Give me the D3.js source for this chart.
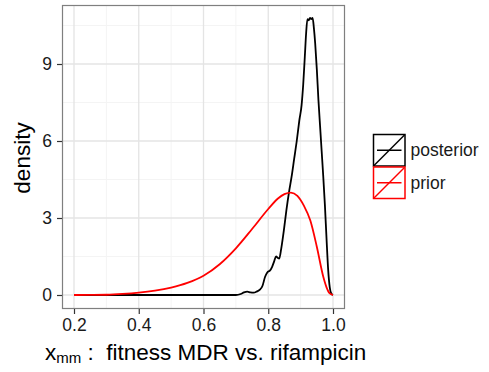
<!DOCTYPE html>
<html>
<head>
<meta charset="utf-8">
<script src="https://cdn.jsdelivr.net/npm/d3@7"></script>
<style>
  body { margin: 0; background: #fff; }
  svg { display: block; font-family: "Liberation Sans", Arial, sans-serif; }
  .tick-label { fill: #1a1a1a; font-size: 17.5px; }
  .title { fill: #000; font-size: 22.5px; }
</style>
</head>
<body>
<div id="chart"></div>
<script>
// values
const priorX = [0.2, 0.25, 0.3, 0.35, 0.4, 0.45, 0.5, 0.55, 0.6, 0.65, 0.7, 0.75, 0.8, 0.83, 0.85, 0.87, 0.89, 0.91, 0.93, 0.95, 0.97, 0.98, 0.99, 1.0]
const priorY = [0, 0.003, 0.01, 0.04, 0.09, 0.17, 0.29, 0.47, 0.75, 1.2, 1.82, 2.57, 3.35, 3.76, 3.93, 3.99, 3.86, 3.48, 2.9, 1.88, 0.71, 0.3, 0.06, 0]

const postX = [0.2, 0.70, 0.715, 0.725, 0.735, 0.745, 0.755, 0.765, 0.775, 0.782, 0.79, 0.797, 0.805, 0.812, 0.818, 0.824, 0.829, 0.834, 0.84, 0.848, 0.856, 0.864, 0.872, 0.88, 0.888, 0.896, 0.903, 0.908, 0.913, 0.917, 0.921, 0.925, 0.929, 0.933, 0.937, 0.941, 0.945, 0.95, 0.955, 0.96, 0.965, 0.97, 0.975, 0.98, 0.985, 0.99, 0.995, 1.0]
const postY = [0, 0, 0.04, 0.1, 0.13, 0.1, 0.09, 0.14, 0.22, 0.35, 0.7, 0.88, 0.95, 1.1, 1.3, 1.5, 1.45, 1.42, 1.8, 2.5, 3.3, 4.0, 4.6, 5.3, 6.0, 6.8, 7.4, 8.2, 9.3, 10.2, 10.75, 10.7, 10.8, 10.75, 10.8, 10.4, 9.8, 8.8, 7.6, 6.6, 5.6, 4.6, 3.5, 2.2, 1.0, 0.3, 0.05, 0]

const xTicks = [0.2, 0.4, 0.6, 0.8, 1.0]
const xMinor = [0.3, 0.5, 0.7, 0.9]
const yTicks = [0, 3, 6, 9]
const yMinor = [1.5, 4.5, 7.5, 10.5]

const seriesNames = ['posterior', 'prior']
const seriesColors = ['#000000', '#ff0000']

const width = 489, height = 372
const panel = { left: 62, top: 5, right: 345, bottom: 309 }

const svg = d3.select('#chart').append('svg')
  .attr('width', width)
  .attr('height', height)

const x = d3.scaleLinear().domain([0.2, 1.0]).range([74, 333])
const y = d3.scaleLinear().domain([0, 9]).range([295, 64])

// panel background + grid
svg.append('rect')
  .attr('x', panel.left).attr('y', panel.top)
  .attr('width', panel.right - panel.left)
  .attr('height', panel.bottom - panel.top)
  .attr('fill', '#fff')

const grid = svg.append('g')
grid.selectAll('.xminor').data(xMinor).enter().append('line')
  .attr('x1', d => x(d)).attr('x2', d => x(d))
  .attr('y1', panel.top).attr('y2', panel.bottom)
  .attr('stroke', '#f4f4f4').attr('stroke-width', 1)
grid.selectAll('.yminor').data(yMinor).enter().append('line')
  .attr('y1', d => y(d)).attr('y2', d => y(d))
  .attr('x1', panel.left).attr('x2', panel.right)
  .attr('stroke', '#f4f4f4').attr('stroke-width', 1)
grid.selectAll('.xmajor').data(xTicks).enter().append('line')
  .attr('x1', d => x(d)).attr('x2', d => x(d))
  .attr('y1', panel.top).attr('y2', panel.bottom)
  .attr('stroke', '#e4e4e4').attr('stroke-width', 1.3)
grid.selectAll('.ymajor').data(yTicks).enter().append('line')
  .attr('y1', d => y(d)).attr('y2', d => y(d))
  .attr('x1', panel.left).attr('x2', panel.right)
  .attr('stroke', '#e4e4e4').attr('stroke-width', 1.3)

// density lines
const line = d3.line()
  .x(d => x(d[0]))
  .y(d => y(d[1]))
  .curve(d3.curveMonotoneX)

svg.append('path')
  .datum(d3.zip(postX, postY))
  .attr('d', line)
  .attr('fill', 'none')
  .attr('stroke', seriesColors[0])
  .attr('stroke-width', 1.8)
  .attr('stroke-linejoin', 'round')

svg.append('path')
  .datum(d3.zip(priorX, priorY))
  .attr('d', line)
  .attr('fill', 'none')
  .attr('stroke', seriesColors[1])
  .attr('stroke-width', 1.8)
  .attr('stroke-linejoin', 'round')

// panel border
svg.append('rect')
  .attr('x', panel.left + 0.5).attr('y', panel.top + 0.5)
  .attr('width', panel.right - panel.left - 1)
  .attr('height', panel.bottom - panel.top - 1)
  .attr('fill', 'none')
  .attr('stroke', '#7f7f7f')
  .attr('stroke-width', 1.2)

// axes
const xAxis = d3.axisBottom(x).tickValues(xTicks).tickSize(5).tickPadding(5)
  .tickFormat(d3.format('.1f'))
const gx = svg.append('g')
  .attr('transform', `translate(0,${panel.bottom})`)
  .call(xAxis)
gx.select('.domain').remove()
gx.selectAll('line').attr('stroke', '#333').attr('stroke-width', 1.2)
gx.selectAll('text').attr('class', 'tick-label').attr('font-size', null).attr('font-family', null)

const yAxis = d3.axisLeft(y).tickValues(yTicks).tickSize(5).tickPadding(5)
const gy = svg.append('g')
  .attr('transform', `translate(${panel.left},0)`)
  .call(yAxis)
gy.select('.domain').remove()
gy.selectAll('line').attr('stroke', '#333').attr('stroke-width', 1.2)
gy.selectAll('text').attr('class', 'tick-label').attr('font-size', null).attr('font-family', null)

// axis titles
svg.append('text')
  .attr('class', 'title')
  .attr('transform', 'translate(30,158) rotate(-90)')
  .attr('text-anchor', 'middle')
  .text('density')

const xt = svg.append('text')
  .attr('class', 'title')
  .attr('x', 45).attr('y', 360)
  .style('white-space', 'pre')
xt.append('tspan').text('x')
xt.append('tspan').attr('font-size', '15px').attr('dy', 3).text('mm')
xt.append('tspan').attr('dy', -3).text(' :  fitness MDR vs. rifampicin')

// legend
const key = 32.5
const legend = svg.append('g').attr('transform', 'translate(373,134)')
seriesNames.forEach((name, i) => {
  const g = legend.append('g').attr('transform', `translate(0,${i * key})`)
  g.append('rect')
    .attr('x', 0.5).attr('y', 0.5)
    .attr('width', key - 1).attr('height', key - 1)
    .attr('fill', '#fff')
    .attr('stroke', seriesColors[i])
    .attr('stroke-width', 1.5)
  g.append('line')
    .attr('x1', 1).attr('y1', key - 1).attr('x2', key - 1).attr('y2', 1)
    .attr('stroke', seriesColors[i]).attr('stroke-width', 1.5)
  g.append('line')
    .attr('x1', 4).attr('y1', key / 2).attr('x2', key - 4).attr('y2', key / 2)
    .attr('stroke', seriesColors[i]).attr('stroke-width', 1.5)
  g.append('text')
    .attr('class', 'tick-label')
    .attr('x', key + 5).attr('y', key / 2 + 6)
    .text(name)
})
</script>
</body>
</html>
